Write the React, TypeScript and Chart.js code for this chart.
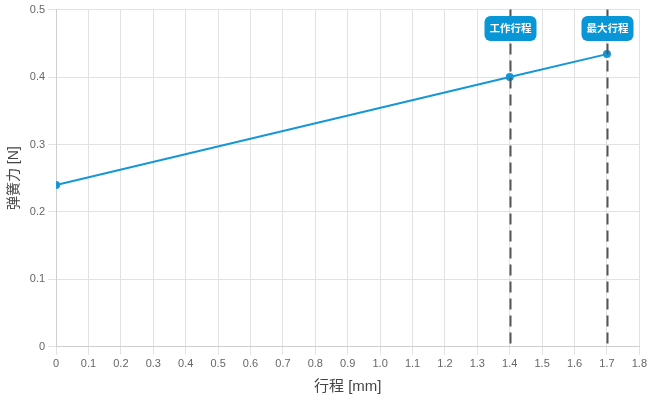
import React, { useEffect, useRef } from "react";
import { Chart, registerables } from "chart.js";

Chart.register(...registerables);

const strokeValues = [0, 1.4, 1.7];
const forceValues = [0.24, 0.4, 0.434];
const markerValues = [1.4, 1.7];
const markerLabels = ["工作行程", "最大行程"];
const xTitle = "行程 [mm]";
const yTitle = "弹簧力 [N]";

const FONT = "'Liberation Sans', 'Noto Sans CJK SC', sans-serif";

const markerPlugin = {
  id: "markers",
  afterDatasetsDraw(chart: any) {
    const { ctx, chartArea, scales } = chart;
    ctx.save();
    markerValues.forEach((v, i) => {
      const x = Math.round(scales.x.getPixelForValue(v)) + 0.5;
      ctx.beginPath();
      ctx.setLineDash([11, 6]);
      ctx.lineWidth = 2;
      ctx.strokeStyle = "#555555";
      ctx.moveTo(x, chartArea.top);
      ctx.lineTo(x, chartArea.bottom);
      ctx.stroke();
      ctx.setLineDash([]);
      const label = markerLabels[i];
      ctx.font = "bold 10.5px " + FONT;
      const w = ctx.measureText(label).width + 10;
      const h = 25;
      const cy = chartArea.top + 19;
      const bx = x - w / 2;
      const by = cy - h / 2;
      ctx.fillStyle = "#0896d6";
      ctx.beginPath();
      (ctx as any).roundRect(bx, by, w, h, 6);
      ctx.fill();
      ctx.fillStyle = "#ffffff";
      ctx.textAlign = "center";
      ctx.textBaseline = "middle";
      ctx.fillText(label, x, cy + 1);
    });
    ctx.restore();
  },
};

export default function App() {
  const ref = useRef<HTMLCanvasElement>(null);
  useEffect(() => {
    document.body.style.margin = "0";
    const chart = new Chart(ref.current!, {
      type: "line",
      data: {
        datasets: [
          {
            data: strokeValues.map((x, i) => ({ x, y: forceValues[i] })),
            borderColor: "#1497d8",
            backgroundColor: "#1497d8",
            borderWidth: 2,
            pointRadius: 4,
            pointBackgroundColor: "#1497d8",
            pointBorderColor: "#1497d8",
            pointBorderWidth: 0,
            tension: 0,
            clip: 0,
          },
        ],
      },
      options: {
        animation: false,
        responsive: false,
        maintainAspectRatio: false,
        layout: { padding: { top: 4, right: 10, left: 2, bottom: 2 } },
        plugins: { legend: { display: false }, tooltip: { enabled: false } },
        scales: {
          x: {
            type: "linear",
            min: 0,
            max: 1.8,
            ticks: {
              stepSize: 0.1,
              color: "#666",
              font: { size: 11, family: FONT },
              callback: (v: any) => (Number(v) === 0 ? "0" : Number(v).toFixed(1)),
              maxRotation: 0,
              autoSkip: false,
            },
            grid: { color: "#e2e2e2" },
            border: { color: "#cfcfcf" },
            title: {
              display: true,
              text: xTitle,
              color: "#444",
              font: { size: 15, family: FONT },
              padding: { top: 4, bottom: 2 },
            },
          },
          y: {
            min: 0,
            max: 0.5,
            ticks: {
              stepSize: 0.1,
              color: "#666",
              font: { size: 11, family: FONT },
              callback: (v: any) => (Number(v) === 0 ? "0" : Number(v).toFixed(1)),
            },
            grid: { color: "#e2e2e2" },
            border: { color: "#cfcfcf" },
            title: {
              display: true,
              text: yTitle,
              color: "#444",
              font: { size: 14, family: FONT },
              padding: { top: 4, bottom: 4 },
            },
          },
        },
      },
      plugins: [markerPlugin],
    } as any);
    return () => chart.destroy();
  }, []);
  return <canvas ref={ref} width={650} height={400} />;
}
